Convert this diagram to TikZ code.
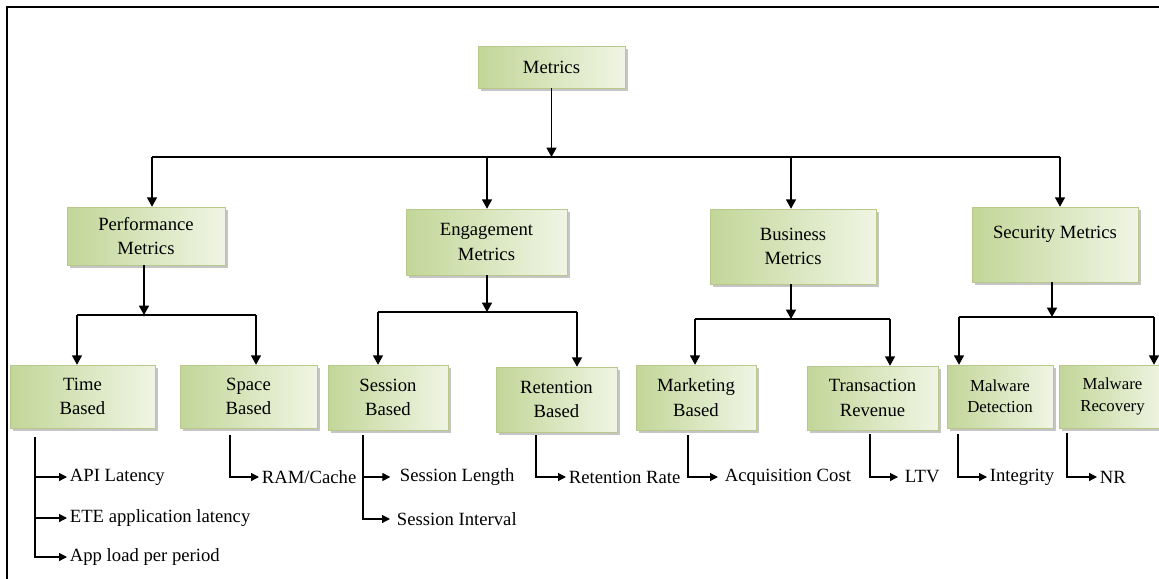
\documentclass[tikz,border=0pt]{standalone}
\usepackage{fontspec}
\setmainfont{Liberation Serif}
\usetikzlibrary{arrows.meta,shadows}
\definecolor{gA}{RGB}{194,214,152}
\definecolor{gB}{RGB}{240,245,228}
\definecolor{gE}{RGB}{184,200,140}
\tikzset{
  box/.style={draw=gE, line width=0.4pt, left color=gA, right color=gB,
    drop shadow={shadow xshift=2pt, shadow yshift=-2pt, fill=black!45},
    align=center, inner sep=0pt, font=\fontsize{14}{18.5}\selectfont},
  smallbox/.style={box, font=\fontsize{12.6}{15.8}\selectfont},
  wh/.style 2 args={minimum width=0.75*#1pt, minimum height=0.75*#2pt},
  link/.style={line width=0.9pt},
  arr/.style={line width=0.9pt, -{Triangle[length=7pt,width=7.5pt]}},
  sarr/.style={line width=0.9pt, -{Triangle[length=6pt,width=6pt]}},
  leaf/.style={font=\fontsize{14}{16}\selectfont, inner xsep=2pt, inner ysep=1pt, anchor=west}
}
\begin{document}
\begin{tikzpicture}[x=0.75pt,y=-0.75pt]
\clip (0,0) rectangle (1159,578);
\fill[white] (0,0) rectangle (1159,578);
\draw[line width=1.6pt] (7,7) rectangle (1180,600);

% top level
\node[box, wh={147}{42}] (M) at (551.5,67) {Metrics};
\node[box, wh={158}{58}] (P) at (146,236) {Performance\\Metrics};
\node[box, wh={161}{66}] (E) at (486.5,242) {Engagement\\Metrics};
\node[box, wh={166}{75}] (B) at (793,246.5) {Business\\Metrics};
\node[box, wh={166}{75}] (S) at (1055,244.5) {Security Metrics\\\mbox{}};

% second level
\node[box, wh={145}{63}] (T) at (82.5,396.5) {Time\\Based};
\node[box, wh={137}{63}] (Sp) at (248.5,396.5) {Space\\Based};
\node[box, wh={120}{65}] (Se) at (388,397.5) {Session\\Based};
\node[box, wh={121}{65}] (R) at (556.5,399.5) {Retention\\Based};
\node[box, wh={120}{65}] (Mk) at (696,397.5) {Marketing\\Based};
\node[box, wh={131}{64}] (Tr) at (872.5,398) {Transaction\\Revenue};
\node[smallbox, wh={106}{63}] (MD) at (1000,396.5) {Malware\\Detection};
\node[smallbox, wh={107}{63}] (MR) at (1112.5,396.5) {Malware\\Recovery};

% leaves
\node[leaf] (L1) at (67,477) {API Latency};
\node[leaf] (L2) at (67,518) {ETE application latency};
\node[leaf] (L3) at (67,557) {App load per period};
\node[leaf] (L4) at (259,477) {RAM/Cache};
\node[leaf] (L5) at (397,477) {Session Length};
\node[leaf] (L6) at (394,519) {Session Interval};
\node[leaf] (L7) at (566,477) {Retention Rate};
\node[leaf] (L8) at (722,477) {Acquisition Cost};
\node[leaf] (L9) at (902,477) {LTV};
\node[leaf] (L10) at (987,477) {Integrity};
\node[leaf] (L11) at (1097,477) {NR};

% main bus
\coordinate (top) at (551.5,157);
\coordinate (t1) at (152,157);
\coordinate (t2) at (487,157);
\coordinate (t3) at (791,157);
\coordinate (t4) at (1060,157);
\draw[link] (t1) -- (t4);
\draw[arr] (M.south) -- (top);
\draw[arr] (t1) -- (t1 |- P.north);
\draw[arr] (t2) -- (t2 |- E.north);
\draw[arr] (t3) -- (t3 |- B.north);
\draw[arr] (t4) -- (t4 |- S.north);

% performance bus
\coordinate (pb) at (144,315);
\coordinate (pl) at (77,315);
\coordinate (pr) at (256,315);
\draw[link] (pl) -- (pr);
\draw[arr] (pb |- P.south) -- (pb);
\draw[arr] (pl) -- (pl |- T.north);
\draw[arr] (pr) -- (pr |- Sp.north);

% engagement bus
\coordinate (eb) at (487,312);
\coordinate (el) at (378,312);
\coordinate (er) at (577,312);
\draw[link] (el) -- (er);
\draw[arr] (eb |- E.south) -- (eb);
\draw[arr] (el) -- (el |- Se.north);
\draw[arr] (er) -- (er |- R.north);

% business bus
\coordinate (bb) at (791,319);
\coordinate (bl) at (695,319);
\coordinate (br) at (890,319);
\draw[link] (bl) -- (br);
\draw[arr] (bb |- B.south) -- (bb);
\draw[arr] (bl) -- (bl |- Mk.north);
\draw[arr] (br) -- (br |- Tr.north);

% security bus
\coordinate (sb) at (1052,317);
\coordinate (sl) at (959,317);
\coordinate (sr) at (1154,317);
\draw[link] (sl) -- (sr);
\draw[arr] (sb |- S.south) -- (sb);
\draw[arr] (sl) -- (sl |- MD.north);
\draw[arr] (sr) -- (sr |- MR.north);

% leaf stems
\coordinate (ts) at (35,437);
\draw[sarr] (ts) |- (L1.west);
\draw[sarr] (ts) |- (L2.west);
\draw[sarr] (ts) |- (L3.west);
\coordinate (sps) at (230,435);
\draw[sarr] (sps) |- (L4.west);
\coordinate (ses) at (363,435);
\draw[sarr] (ses) |- ([xshift=-5pt]L5.west);
\draw[sarr] (ses) |- ([xshift=-3pt]L6.west);
\coordinate (rs) at (536,435);
\draw[sarr] (rs) |- (L7.west);
\coordinate (ms) at (688,435);
\draw[sarr] (ms) |- ([xshift=-3pt]L8.west);
\coordinate (trs) at (870,434);
\draw[sarr] (trs) |- ([xshift=-3pt]L9.west);
\coordinate (mds) at (958,434);
\draw[sarr] (mds) |- (L10.west);
\coordinate (mrs) at (1067,433);
\draw[sarr] (mrs) |- (L11.west);
\end{tikzpicture}
\end{document}
